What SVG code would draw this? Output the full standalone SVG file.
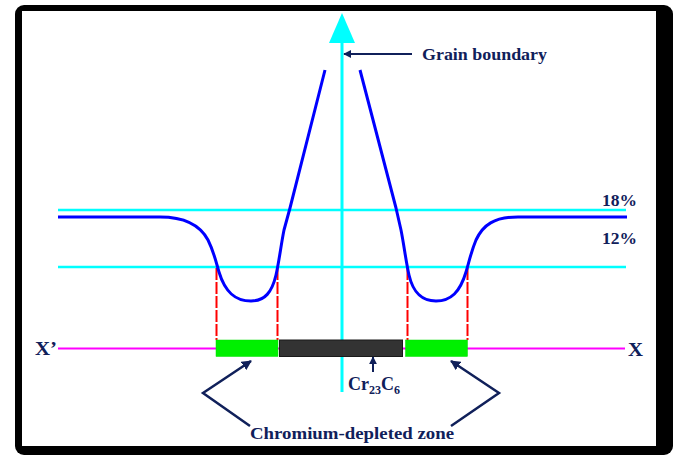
<svg xmlns="http://www.w3.org/2000/svg" width="677" height="456" viewBox="0 0 677 456">
<defs>
<marker id="ah" viewBox="0 0 10 10" refX="9" refY="5" markerWidth="4" markerHeight="4" orient="auto" markerUnits="strokeWidth">
<path d="M0,0 L10,5 L0,10 Z" fill="#10205a"/>
</marker>
<marker id="ah2" viewBox="0 0 10 10" refX="9" refY="5" markerWidth="4" markerHeight="4" orient="auto" markerUnits="strokeWidth">
<path d="M0,0 L10,5 L0,10 Z" fill="#10205a"/>
</marker>
</defs>
<style>
.lbl{font-family:"Liberation Serif","DejaVu Serif",serif;font-weight:bold;fill:#10205a;}
.cyan{stroke:#00ffff;stroke-width:2.6;fill:none;}
.blue{stroke:#0000ff;stroke-width:3;fill:none;stroke-linejoin:round;}
.red{stroke:#ff0000;stroke-width:2;stroke-dasharray:12 2;fill:none;}
.mag{stroke:#ff00ff;stroke-width:2;fill:none;}
.nav{stroke:#10205a;stroke-width:2;fill:none;}
.green{fill:#00f000;stroke:#00e000;stroke-width:0.5;}
</style>
<rect x="0" y="0" width="677" height="456" fill="#ffffff"/>
<g id="frame">
<rect x="15" y="5" width="658" height="450" rx="9" fill="#000000"/>
<rect x="22" y="11" width="634" height="435" fill="#ffffff"/>
</g>
<g id="levels">
<line class="cyan" x1="58" y1="210" x2="626" y2="210"/>
<line class="cyan" x1="58" y1="267" x2="626" y2="267"/>
<text class="lbl" x="602" y="206" font-size="16" textLength="35" lengthAdjust="spacingAndGlyphs">18%</text>
<text class="lbl" x="602" y="244" font-size="16" textLength="35" lengthAdjust="spacingAndGlyphs">12%</text>
</g>
<g id="grain-boundary">
<line class="cyan" x1="342" y1="40" x2="342" y2="392" style="stroke-width:3"/>
<polygon points="342,13 329,43 355,43" fill="#00ffff"/>
</g>
<g id="axis">
<line class="mag" x1="58" y1="348.5" x2="625" y2="348.5"/>
<text class="lbl" x="35" y="355" font-size="18" textLength="22" lengthAdjust="spacingAndGlyphs">X’</text>
<text class="lbl" x="628" y="356" font-size="18" textLength="15" lengthAdjust="spacingAndGlyphs">X</text>
</g>
<g id="red-dashes">
<line class="red" x1="216.5" y1="268" x2="216.5" y2="340"/>
<line class="red" x1="277.5" y1="268" x2="277.5" y2="340"/>
<line class="red" x1="407.5" y1="268" x2="407.5" y2="340"/>
<line class="red" x1="467.5" y1="268" x2="467.5" y2="340"/>
</g>
<g id="profile">
<path class="blue" d="M58,217 L160,217 C185,217 200,225 208,240 C214,252 216,262 219,272 C225,292 235,301 251,301 C265,301 272,292 276,275 C279,262 281,245 284,230 L290,208 L325,70"/>
<path class="blue" d="M627,217 L518,217 C494,217 483,225 476,240 C471,252 469,262 466,272 C460,292 451,301 436,301 C421,301 413,292 409,275 C406,262 404,245 401,230 L396,208 L360,70"/>
</g>
<g id="zones">
<rect id="depleted-left" class="green" x="216" y="340" width="62" height="16.5"/>
<rect id="carbide" x="279.5" y="340" width="123" height="16.5" fill="#333333" stroke="#1a1a1a" stroke-width="1"/>
<rect id="depleted-right" class="green" x="405.5" y="340" width="62" height="16.5"/>
</g>
<g id="connectors">
<line class="nav" x1="412" y1="54" x2="344" y2="54" marker-end="url(#ah)"/>
<line class="nav" x1="373" y1="372" x2="373" y2="357" marker-end="url(#ah)"/>
<polyline class="nav" points="250,426 203,393 251,361" style="stroke-width:2.5" marker-end="url(#ah2)"/>
<polyline class="nav" points="451,426 499,393 451,361" style="stroke-width:2.5" marker-end="url(#ah2)"/>
</g>
<g id="labels">
<text class="lbl" x="422" y="60" font-size="16" textLength="125" lengthAdjust="spacingAndGlyphs">Grain boundary</text>
<text class="lbl" x="348" y="390" font-size="18">Cr<tspan font-size="12" dy="4">23</tspan><tspan dy="-4">C</tspan><tspan font-size="12" dy="4">6</tspan></text>
<text class="lbl" x="250" y="439" font-size="17" textLength="204" lengthAdjust="spacingAndGlyphs">Chromium-depleted zone</text>
</g>
</svg>
